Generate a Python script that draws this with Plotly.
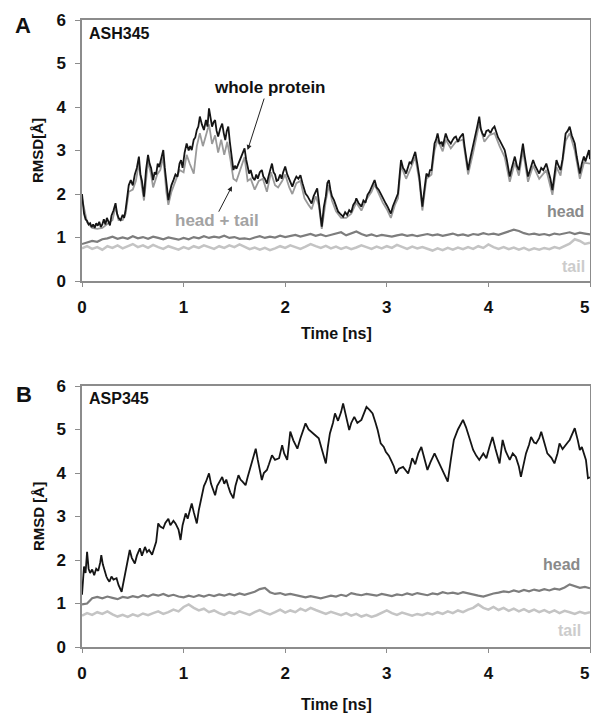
import plotly.graph_objects as go

# ---------------- Panel A (ASH345) ----------------
a_whole_t = [0.000,0.010,0.020,0.035,0.050,0.065,0.080,0.095,0.110,0.125,0.140,0.155,0.170,0.185,0.200,0.215,0.230,0.245,0.260,0.275,
             0.290,0.310,0.330,0.345,0.360,0.380,0.400,0.415,0.430,0.445,0.460,0.480,0.500,0.520,0.540,0.560,0.575,0.590,0.610,0.630,
             0.650,0.665,0.680,0.700,0.715,0.730,0.745,0.760,0.780,0.800,0.815,0.830,0.850,0.865,0.880,0.900,0.920,0.940,0.960,0.975,
             0.990,1.010,1.030,1.050,1.065,1.080,1.100,1.115,1.130,1.145,1.160,1.180,1.200,1.220,1.235,1.250,1.265,1.280,1.295,1.310,
             1.325,1.340,1.360,1.380,1.395,1.410,1.425,1.440,1.455,1.470,1.490,1.505,1.520,1.540,1.560,1.580,1.600,1.615,1.630,1.645,
             1.660,1.680,1.700,1.715,1.730,1.750,1.770,1.785,1.800,1.820,1.835,1.850,1.870,1.885,1.900,1.915,1.930,1.950,1.965,1.980,
             2.000,2.020,2.035,2.050,2.070,2.090,2.110,2.130,2.150,2.170,2.185,2.200,2.220,2.240,2.260,2.280,2.300,2.315,2.330,2.345,
             2.360,2.380,2.400,2.415,2.430,2.445,2.460,2.480,2.500,2.520,2.540,2.570,2.590,2.610,2.630,2.650,2.670,2.690,2.700,2.720,
             2.750,2.770,2.790,2.810,2.830,2.850,2.870,2.880,2.900,2.920,2.940,2.960,2.980,2.990,3.010,3.030,3.040,3.060,3.080,3.100,
             3.110,3.125,3.140,3.160,3.175,3.190,3.210,3.225,3.240,3.260,3.280,3.300,3.320,3.335,3.350,3.370,3.390,3.410,3.425,3.440,
             3.455,3.470,3.485,3.500,3.520,3.540,3.550,3.565,3.580,3.600,3.615,3.630,3.650,3.665,3.680,3.700,3.720,3.735,3.750,3.765,
             3.780,3.800,3.820,3.835,3.850,3.870,3.890,3.910,3.925,3.940,3.960,3.980,4.000,4.020,4.040,4.060,4.080,4.095,4.110,4.130,
             4.145,4.160,4.180,4.195,4.210,4.230,4.250,4.260,4.280,4.300,4.320,4.340,4.355,4.370,4.390,4.410,4.425,4.440,4.460,4.480,
             4.500,4.520,4.540,4.570,4.590,4.610,4.630,4.650,4.670,4.690,4.710,4.730,4.745,4.760,4.780,4.800,4.820,4.835,4.850,4.870,
             4.890,4.900,4.920,4.940,4.955,4.970,4.990,5.000]
a_whole = [2.00,1.70,1.55,1.42,1.38,1.30,1.33,1.24,1.30,1.22,1.33,1.27,1.36,1.24,1.30,1.42,1.30,1.45,1.35,1.28,
           1.50,1.62,1.79,1.55,1.45,1.40,1.52,1.45,1.65,1.95,2.20,2.32,2.20,2.45,2.60,2.86,2.45,2.30,1.94,2.55,
           2.90,2.70,2.60,2.32,2.50,2.45,2.70,2.62,2.85,3.01,2.60,2.20,1.86,2.05,2.20,2.32,2.45,2.40,2.70,2.78,
           2.60,2.95,3.16,3.00,3.10,3.01,3.25,3.30,3.47,3.55,3.78,3.60,3.47,3.70,3.55,3.97,3.70,3.55,3.65,3.70,
           3.45,3.32,3.50,3.62,3.40,3.24,3.45,3.55,3.20,2.90,2.55,2.65,2.58,2.70,2.82,2.90,3.05,2.80,2.60,2.47,
           2.55,2.38,2.32,2.45,2.35,2.50,2.55,2.40,2.35,2.24,2.40,2.55,2.70,2.50,2.45,2.30,2.32,2.45,2.35,2.50,
           2.63,2.45,2.35,2.30,2.17,2.30,2.40,2.35,2.43,2.25,2.10,2.01,1.95,1.85,1.78,1.95,2.05,2.13,1.85,1.55,
           1.25,1.70,1.95,2.25,2.32,2.10,1.95,1.86,1.71,1.60,1.55,1.48,1.58,1.52,1.63,1.58,1.75,1.82,1.90,1.80,
           1.71,1.85,1.80,1.98,2.05,2.15,2.28,2.32,2.15,2.10,2.01,1.90,1.82,1.78,1.70,1.60,1.55,1.72,1.85,1.95,
           2.01,2.40,2.78,2.60,2.55,2.47,2.62,2.74,2.70,2.85,2.97,2.70,2.40,2.05,1.71,2.10,2.47,2.40,2.55,2.55,
           2.85,3.16,3.25,3.39,3.15,3.20,3.09,3.25,3.39,3.25,3.20,3.16,3.25,3.30,3.32,3.20,3.30,3.35,3.39,3.10,
           2.85,2.55,2.80,2.95,3.09,3.30,3.55,3.78,3.50,3.40,3.32,3.45,3.47,3.40,3.50,3.55,3.40,3.30,3.24,3.15,
           3.10,3.01,2.80,2.60,2.40,2.60,2.75,2.86,2.65,2.55,2.85,3.16,2.90,2.65,2.40,2.55,2.70,2.78,2.65,2.55,
           2.47,2.60,2.55,2.70,2.55,2.35,2.09,2.45,2.78,2.65,2.55,2.80,3.10,3.39,3.45,3.55,3.35,3.25,3.16,2.85,
           2.55,2.47,2.70,2.86,2.75,2.85,3.01,2.80]

a_ht_t = [0.00,0.05,0.10,0.15,0.20,0.25,0.30,0.33,0.36,0.40,0.43,0.46,0.50,0.53,0.56,0.59,0.61,0.65,0.68,0.70,
          0.74,0.77,0.80,0.83,0.85,0.88,0.92,0.96,1.00,1.03,1.06,1.10,1.13,1.16,1.19,1.22,1.25,1.28,1.31,1.34,
          1.37,1.40,1.43,1.46,1.49,1.52,1.55,1.60,1.63,1.66,1.70,1.74,1.78,1.82,1.86,1.90,1.93,1.97,2.00,2.04,
          2.07,2.11,2.15,2.19,2.23,2.26,2.30,2.33,2.36,2.40,2.43,2.46,2.50,2.55,2.60,2.65,2.70,2.75,2.80,2.85,
          2.88,2.92,2.96,3.00,3.04,3.08,3.11,3.14,3.19,3.24,3.28,3.32,3.35,3.39,3.44,3.47,3.50,3.55,3.58,3.63,
          3.68,3.75,3.80,3.85,3.91,3.96,4.01,4.06,4.11,4.16,4.21,4.26,4.30,4.34,4.39,4.44,4.50,4.57,4.63,4.67,
          4.71,4.76,4.80,4.85,4.90,4.94,5.00]
a_headtail = [1.90,1.35,1.22,1.20,1.22,1.30,1.40,1.70,1.40,1.40,1.55,2.05,2.10,2.30,2.70,2.15,1.85,2.75,2.45,2.15,
              2.45,2.55,2.85,2.05,1.75,2.05,2.30,2.55,2.50,2.90,2.70,2.47,3.10,3.40,3.10,3.35,3.60,3.15,3.35,2.95,
              3.25,2.90,3.20,2.80,2.35,2.30,2.50,2.85,2.30,2.35,2.10,2.30,2.35,2.05,2.50,2.20,2.15,2.30,2.45,2.15,
              2.00,2.25,2.30,1.90,1.75,1.65,1.95,1.75,1.20,1.85,2.20,1.85,1.60,1.45,1.45,1.55,1.80,1.62,1.88,2.05,
              2.22,2.00,1.80,1.65,1.45,1.75,1.90,2.65,2.35,2.62,2.85,2.30,1.62,2.35,2.45,3.00,3.25,2.98,3.25,3.05,
              3.20,3.25,2.45,2.95,3.62,3.20,3.35,3.40,3.10,2.85,2.28,2.72,2.42,3.00,2.28,2.65,2.35,2.55,1.98,2.62,
              2.42,3.22,3.40,3.00,2.35,2.72,2.70]

t_step = [round(i * 0.05, 2) for i in range(101)]

a_head = [0.85,0.88,0.92,0.90,0.96,0.98,1.02,0.97,1.00,0.97,1.03,0.98,1.01,0.97,1.02,0.99,0.96,1.00,0.97,0.95,
          0.99,0.96,1.01,0.98,1.03,0.99,1.02,1.00,1.04,0.99,1.01,0.97,0.98,0.96,1.00,1.03,0.99,1.02,1.00,1.04,
          1.01,1.03,1.06,1.02,1.05,1.08,1.04,1.07,1.03,1.06,1.08,1.12,1.05,1.09,1.14,1.08,1.04,1.07,1.03,1.06,
          1.04,1.02,1.05,1.07,1.04,1.06,1.03,1.05,1.08,1.05,1.07,1.04,1.06,1.09,1.05,1.07,1.04,1.08,1.06,1.10,
          1.07,1.09,1.06,1.10,1.14,1.18,1.15,1.10,1.07,1.09,1.06,1.08,1.05,1.09,1.07,1.10,1.12,1.08,1.11,1.09,
          1.07]
a_tail = [0.75,0.80,0.74,0.78,0.72,0.80,0.76,0.82,0.75,0.80,0.85,0.78,0.82,0.76,0.83,0.78,0.74,0.80,0.76,0.72,
          0.78,0.74,0.80,0.76,0.82,0.78,0.74,0.80,0.76,0.82,0.78,0.84,0.79,0.73,0.77,0.72,0.76,0.71,0.75,0.80,
          0.76,0.82,0.78,0.74,0.79,0.85,0.80,0.76,0.81,0.75,0.79,0.74,0.78,0.73,0.77,0.82,0.78,0.74,0.79,0.75,
          0.80,0.76,0.83,0.78,0.74,0.79,0.75,0.78,0.74,0.70,0.75,0.71,0.76,0.72,0.77,0.73,0.78,0.74,0.80,0.76,
          0.84,0.78,0.74,0.78,0.73,0.77,0.72,0.76,0.71,0.75,0.72,0.76,0.73,0.78,0.75,0.80,0.86,0.96,0.92,0.85,
          0.88]

# ---------------- Panel B (ASP345) ----------------
b_whole_t = [0.000,0.010,0.020,0.035,0.050,0.065,0.080,0.100,0.120,0.140,0.160,0.180,0.190,0.205,0.220,0.240,0.255,0.270,0.290,0.310,
             0.340,0.360,0.390,0.410,0.430,0.450,0.470,0.490,0.520,0.540,0.570,0.590,0.620,0.640,0.660,0.690,0.710,0.730,0.750,0.770,
             0.800,0.820,0.850,0.870,0.900,0.920,0.950,0.970,0.990,1.020,1.040,1.060,1.080,1.100,1.130,1.150,1.180,1.200,1.220,1.250,
             1.270,1.290,1.310,1.330,1.350,1.380,1.400,1.420,1.440,1.460,1.490,1.510,1.540,1.560,1.580,1.610,1.630,1.660,1.690,1.710,
             1.730,1.750,1.770,1.790,1.820,1.840,1.870,1.900,1.940,1.970,1.990,2.020,2.050,2.080,2.100,2.120,2.150,2.180,2.200,2.230,
             2.260,2.290,2.330,2.360,2.400,2.420,2.440,2.470,2.490,2.520,2.550,2.570,2.600,2.630,2.650,2.680,2.710,2.750,2.780,2.800,
             2.830,2.860,2.890,2.910,2.940,2.970,2.990,3.020,3.040,3.070,3.090,3.120,3.160,3.190,3.210,3.230,3.250,3.280,3.310,3.340,
             3.370,3.400,3.430,3.470,3.500,3.530,3.560,3.600,3.630,3.660,3.700,3.730,3.750,3.780,3.800,3.830,3.850,3.880,3.910,3.950,
             3.980,4.010,4.040,4.070,4.110,4.140,4.170,4.210,4.240,4.270,4.300,4.320,4.350,4.370,4.400,4.420,4.450,4.470,4.500,4.520,
             4.550,4.580,4.620,4.650,4.680,4.700,4.730,4.750,4.780,4.800,4.830,4.850,4.880,4.900,4.920,4.940,4.960,4.980,5.000]
b_whole = [1.20,1.55,1.85,1.70,2.19,1.80,1.70,1.78,1.65,1.80,1.75,1.95,2.11,1.90,1.75,1.62,1.55,1.50,1.62,1.55,
           1.58,1.42,1.27,1.50,1.75,2.00,2.23,2.05,1.92,2.10,2.27,2.10,2.30,2.18,2.23,2.12,2.30,2.42,2.84,2.77,
           2.73,2.85,2.95,2.80,2.90,2.84,2.70,2.46,2.80,3.07,2.95,3.15,3.30,3.10,2.84,3.15,3.45,3.70,3.80,3.99,
           3.75,3.60,3.49,3.70,3.80,3.91,3.75,3.85,3.69,3.55,3.42,3.70,3.95,3.85,3.80,3.72,3.90,4.14,4.35,4.56,
           4.30,4.05,3.84,4.00,4.07,4.20,4.41,4.30,4.34,4.64,4.45,4.30,4.95,4.75,4.65,4.56,4.80,5.00,5.14,5.00,
           4.95,4.88,4.80,4.55,4.22,4.60,4.91,5.15,5.37,5.20,5.40,5.60,5.30,4.99,5.15,5.29,5.15,5.22,5.40,5.52,
           5.45,5.37,5.15,4.99,4.68,4.60,4.49,4.40,4.30,4.15,3.99,4.10,4.14,4.05,3.99,4.15,4.34,4.20,4.45,4.60,
           4.35,4.07,4.25,4.45,4.30,4.14,4.00,3.80,4.30,4.76,5.00,5.15,5.22,5.05,4.91,4.70,4.53,4.40,4.30,4.45,
           4.34,4.60,4.83,4.55,4.22,4.76,4.50,4.30,4.45,4.37,4.15,3.91,4.20,4.45,4.65,4.83,4.70,4.68,4.80,4.95,
           4.70,4.45,4.35,4.22,4.45,4.68,4.55,4.60,4.70,4.76,4.90,5.03,4.75,4.53,4.60,4.45,4.30,3.88,3.90]

b_head = [0.98,1.00,1.12,1.15,1.12,1.16,1.13,1.10,1.15,1.13,1.17,1.14,1.19,1.16,1.21,1.18,1.22,1.17,1.20,1.16,
          1.14,1.18,1.15,1.19,1.16,1.20,1.17,1.21,1.18,1.22,1.19,1.23,1.20,1.24,1.27,1.33,1.36,1.26,1.22,1.24,
          1.20,1.22,1.19,1.16,1.14,1.17,1.14,1.12,1.15,1.18,1.16,1.20,1.17,1.24,1.21,1.19,1.22,1.20,1.18,1.22,
          1.19,1.17,1.21,1.19,1.23,1.20,1.24,1.21,1.19,1.23,1.21,1.26,1.23,1.25,1.22,1.26,1.23,1.20,1.18,1.16,
          1.20,1.23,1.25,1.28,1.26,1.30,1.27,1.31,1.28,1.32,1.29,1.33,1.30,1.34,1.32,1.37,1.44,1.40,1.36,1.38,
          1.35]
b_tail = [0.72,0.78,0.74,0.80,0.76,0.82,0.75,0.70,0.74,0.69,0.75,0.71,0.77,0.73,0.78,0.82,0.76,0.80,0.86,0.82,
          0.92,0.98,0.90,0.84,0.88,0.80,0.84,0.78,0.74,0.80,0.76,0.82,0.78,0.74,0.80,0.85,0.79,0.75,0.80,0.86,
          0.79,0.84,0.80,0.88,0.83,0.90,0.85,0.80,0.76,0.81,0.77,0.73,0.78,0.72,0.76,0.70,0.74,0.69,0.73,0.78,
          0.84,0.78,0.74,0.79,0.75,0.72,0.76,0.73,0.78,0.75,0.80,0.76,0.82,0.78,0.84,0.80,0.86,0.90,0.98,0.90,
          0.86,0.92,0.85,0.90,0.83,0.88,0.82,0.87,0.81,0.86,0.80,0.85,0.79,0.84,0.78,0.83,0.80,0.76,0.81,0.77,
          0.80]

x_ticks = [0, 1, 2, 3, 4, 5]
x_ticktext = ["0", "1", "2", "3", "4", ""]   # the last label ("5") sits flush with the right edge, drawn below
x_last_label = "5"
y_ticks = [0, 1, 2, 3, 4, 5, 6]

FONT = "Arial, Liberation Sans, sans-serif"
C_WHOLE = "#151515"
C_HT = "#9a9a9a"
C_HEAD = "#7d7d7d"
C_TAIL = "#c4c4c4"
AX = "#8c8c8c"

W, H = 591, 713


def fx(px):
    return px / W


def fy(py):
    return 1 - py / H


fig = go.Figure()


def add(t, y, color, width, xa, ya):
    fig.add_trace(go.Scatter(x=t, y=y, mode="lines", line=dict(color=color, width=width),
                             xaxis=xa, yaxis=ya, showlegend=False, hoverinfo="skip"))


add(t_step, a_tail, C_TAIL, 2.5, "x", "y")
add(t_step, a_head, C_HEAD, 2.2, "x", "y")
add(a_ht_t, a_headtail, C_HT, 1.8, "x", "y")
add(a_whole_t, a_whole, C_WHOLE, 1.8, "x", "y")

add(t_step, b_tail, C_TAIL, 2.5, "x2", "y2")
add(t_step, b_head, C_HEAD, 2.2, "x2", "y2")
add(b_whole_t, b_whole, C_WHOLE, 1.8, "x2", "y2")

xdom = [fx(82), fx(590)]
dA = [fy(281), fy(20)]
dB = [fy(647), fy(386)]

TICKFONT = dict(family=FONT, size=17, color="#111", weight="bold")
xcommon = dict(range=[0, 5], tickvals=x_ticks, ticktext=x_ticktext, showline=True, mirror=True,
               linecolor=AX, linewidth=1.5, ticks="outside", ticklen=4, tickcolor=AX, showgrid=False,
               zeroline=False, automargin=False, tickfont=TICKFONT, ticklabelstandoff=6)
ycommon = dict(range=[0, 6], tickvals=y_ticks, showline=True, mirror=True, linecolor=AX, linewidth=1.5,
               ticks="outside", ticklen=5, tickcolor=AX, showgrid=False, zeroline=False, automargin=False,
               tickfont=TICKFONT, ticklabelstandoff=6)

fig.update_layout(
    width=W, height=H, margin=dict(l=0, r=0, t=0, b=0, autoexpand=False),
    paper_bgcolor="white", plot_bgcolor="white",
    xaxis=dict(domain=xdom, anchor="y", **xcommon),
    yaxis=dict(domain=dA, anchor="x", **ycommon),
    xaxis2=dict(domain=xdom, anchor="y2", **xcommon),
    yaxis2=dict(domain=dB, anchor="x2", **ycommon),
)


def txt(text, x, y, xref, yref, size, color="#111", xanchor="center", angle=0):
    fig.add_annotation(text="<b>" + text + "</b>", x=x, y=y, xref=xref, yref=yref, showarrow=False,
                       font=dict(family=FONT, size=size, color=color), xanchor=xanchor, yanchor="middle",
                       textangle=angle)


# last x tick label, kept fully inside the page
txt(x_last_label, 1.0, fy(307), "paper", "paper", 17, xanchor="right")
txt(x_last_label, 1.0, fy(673), "paper", "paper", 17, xanchor="right")

# panel letters
txt("A", fx(23), fy(25), "paper", "paper", 22)
txt("B", fx(24), fy(394), "paper", "paper", 22)
# y titles
txt("RMSD[Å]", fx(38), fy(150), "paper", "paper", 15, angle=-90)
txt("RMSD [Å]", fx(38), fy(516), "paper", "paper", 15, angle=-90)
# x titles
txt("Time [ns]", fx(336), fy(333), "paper", "paper", 16)
txt("Time [ns]", fx(336), fy(704), "paper", "paper", 16)

# panel A labels
txt("ASH345", 0.05, 5.70, "x", "y", 16, xanchor="left")
txt("whole protein", 1.85, 4.44, "x", "y", 17)
txt("head + tail", 1.33, 1.40, "x", "y", 17, color="#a3a3a3")
txt("head", 4.76, 1.59, "x", "y", 16, color="#8a8a8a")
txt("tail", 4.84, 0.34, "x", "y", 16, color="#cccccc")
fig.add_annotation(x=1.63, y=3.01, xref="x", yref="y", ax=17, ay=-53, showarrow=True, text="",
                   arrowhead=2, arrowsize=1, arrowwidth=1, arrowcolor="#222")
fig.add_annotation(x=1.476, y=2.18, xref="x", yref="y", ax=-14, ay=27, showarrow=True, text="",
                   arrowhead=2, arrowsize=1, arrowwidth=1, arrowcolor="#222")

# panel B labels
txt("ASP345", 0.05, 5.72, "x2", "y2", 16, xanchor="left")
txt("head", 4.72, 1.89, "x2", "y2", 16, color="#8a8a8a")
txt("tail", 4.80, 0.39, "x2", "y2", 16, color="#cccccc")

# remove the default page margin so the 591x713 figure fills the window exactly
fig.write_html("out.html", config={"displayModeBar": False},
               post_script="document.body.style.margin='0';document.body.style.overflow='hidden';")
